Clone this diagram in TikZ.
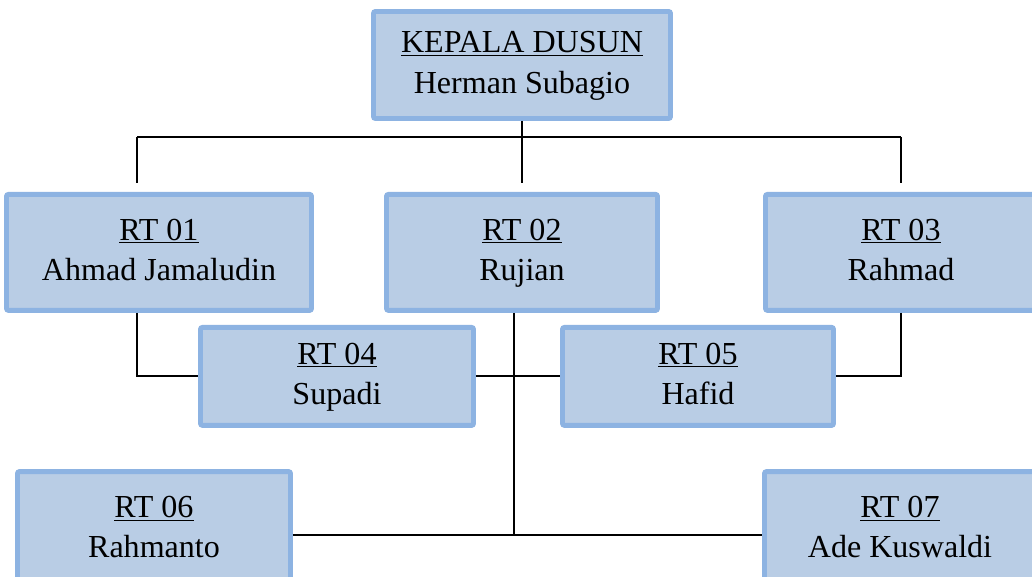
\documentclass[tikz,border=0pt]{standalone}
\usepackage{fontspec}
\setmainfont{Liberation Serif}
\definecolor{boxfill}{HTML}{B9CDE5}
\definecolor{boxline}{HTML}{8DB3E2}
\newcommand{\unittext}[2]{\underline{#1}\strut\\#2\strut}
\tikzset{
  unit/.style={draw=boxline, fill=boxfill, line width=3.5pt, rounded corners=0.05cm,
    align=center, inner sep=0pt, minimum height=2.9cm,
    font=\fontsize{22.8}{28.5}\selectfont},
  link/.style={line width=1.4pt, black},
}

\begin{document}
\begin{tikzpicture}
  \useasboundingbox (0,0) rectangle (25.8,14.4);
  \clip (0,0) rectangle (25.8,14.4);

  % units
  \node[unit, minimum width=7.425cm, minimum height=2.675cm] (kd) at (13.05,12.775)
    {\unittext{KEPALA DUSUN}{Herman Subagio}};
  \node[unit, minimum width=7.625cm] (rt1) at (3.975,8.09) {\unittext{RT 01}{Ahmad Jamaludin}};
  \node[unit, minimum width=6.775cm] (rt2) at (13.05,8.09) {\unittext{RT 02}{Rujian}};
  \node[unit, minimum width=6.775cm] (rt3) at (22.525,8.09) {\unittext{RT 03}{Rahmad}};
  \node[unit, minimum width=6.825cm, minimum height=2.45cm] (rt4) at (8.425,4.99) {\unittext{RT 04}{Supadi}};
  \node[unit, minimum width=6.775cm, minimum height=2.45cm] (rt5) at (17.45,4.99) {\unittext{RT 05}{Hafid}};
  \node[unit, minimum width=6.825cm] (rt6) at (3.85,1.16) {\unittext{RT 06}{Rahmanto}};
  \node[unit, minimum width=6.775cm] (rt7) at (22.5,1.16) {\unittext{RT 07}{Ade Kuswaldi}};

  \coordinate (c1) at (3.425,0);
  \coordinate (c2) at (12.85,0);
  \coordinate (bot) at (0,1.025);

  % lines
  \draw[link] (kd.south) -- ++(0,-0.4) coordinate (bus);
  \draw[link] (bus -| c1) -- (bus -| rt3.north);
  \draw[link, shorten >=0.225cm] (bus -| c1) -- (c1 |- rt1.north);
  \draw[link, shorten >=0.225cm] (bus) -- (rt2.north);
  \draw[link, shorten >=0.225cm] (bus -| rt3.north) -- (rt3.north);
  \draw[link] (c1 |- rt1.south) |- (rt4.west);
  \draw[link] (rt3.south) |- (rt5.east);
  \draw[link] (rt4.east) -- (rt5.west);
  \draw[link] (c2 |- rt2.south) -- (c2 |- bot);
  \draw[link] (rt6.east |- bot) -- (rt7.west |- bot);
\end{tikzpicture}
\end{document}
